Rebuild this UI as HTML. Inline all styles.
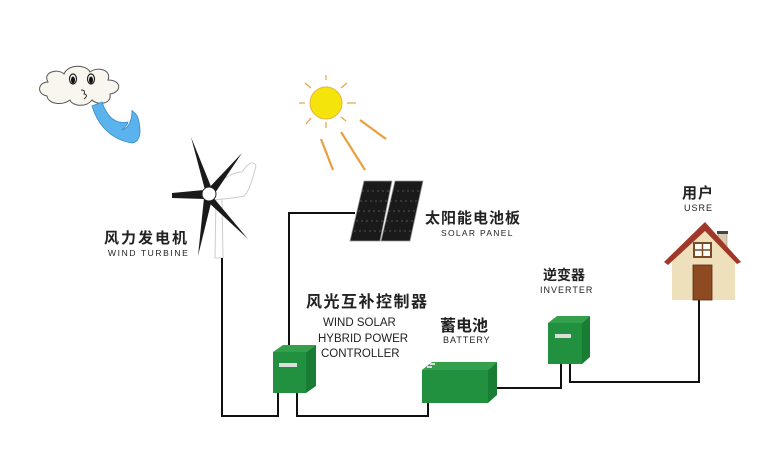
<!DOCTYPE html>
<html><head><meta charset="utf-8"><style>
html,body{margin:0;padding:0;background:#fff;}
svg{display:block;}
text{font-family:"Liberation Sans","Noto Sans CJK SC",sans-serif;fill:#222;}
.cn{font-weight:bold;}
</style></head><body>
<svg width="778" height="452" viewBox="0 0 778 452" xmlns="http://www.w3.org/2000/svg">
<!-- cloud -->
<path d="M47,96 C36,94 38,82 48,82 C42,72 58,68 64,74 C68,64 86,64 90,72 C98,66 112,70 108,80 C122,80 122,92 110,94 C112,104 98,106 92,100 C86,108 72,106 70,100 C62,106 48,104 47,96Z" fill="#f8f6ee" stroke="#555" stroke-width="1"/>
<ellipse cx="73" cy="79" rx="3.5" ry="5" fill="#fff" stroke="#222" stroke-width="1.2"/><ellipse cx="73" cy="80" rx="2" ry="3.5" fill="#111"/>
<ellipse cx="91" cy="79" rx="3.5" ry="5" fill="#fff" stroke="#222" stroke-width="1.2"/><ellipse cx="91" cy="80" rx="2" ry="3.5" fill="#111"/>
<path d="M81,90 q5,0 3,4 q5,1 0,5" fill="none" stroke="#333" stroke-width="1"/>
<!-- swoosh -->
<path d="M92,106 C98,126 112,140 132,143 C140,142 142,132 138,118 C136,112 132,112 132,110 C132,122 128,128 122,130 C126,126 128,124 128,122 C118,124 108,120 102,102Z" fill="#5ab3ec" stroke="#3a8bc8" stroke-width="0.8"/>
<!-- sun -->
<g stroke="#e8a040" stroke-width="1.2">
<line x1="326" y1="75" x2="326" y2="80"/><line x1="305" y1="103" x2="299" y2="103"/><line x1="347" y1="103" x2="356" y2="103"/>
<line x1="311" y1="88" x2="305" y2="83"/><line x1="341" y1="88" x2="347" y2="83"/><line x1="311" y1="118" x2="306" y2="124"/>
<line x1="341" y1="117" x2="346" y2="121"/><line x1="326" y1="122" x2="326" y2="128"/>
</g>
<g stroke="#e8a040" stroke-width="2.2">
<line x1="360" y1="120" x2="386" y2="139"/><line x1="341" y1="132" x2="365" y2="170"/><line x1="321" y1="139" x2="333" y2="170"/>
</g>
<circle cx="326" cy="103" r="16" fill="#f4e40c" stroke="#e8b040" stroke-width="1"/>
<!-- turbine -->
<path d="M216,198 L222,198 L223,258 L215,258Z" fill="#fff" stroke="#ccc" stroke-width="1"/>
<path d="M212,190 C222,178 234,172 242,172 C250,160 254,162 256,166 C252,180 250,190 244,196 C236,198 224,199 212,200Z" fill="#fff" stroke="#ccc" stroke-width="1"/>
<g fill="#1a1a1a">
<path d="M191,137 L205,190 L212,189 Z"/>
<path d="M242,153 L206,191 L213,196 Z"/>
<path d="M172,193 L204,190 L205,199 L172,198 Z"/>
<path d="M248,239 L212,196 L207,201 Z"/>
<path d="M198,256 L204,198 L212,199 Z"/>
</g>
<circle cx="209" cy="194" r="7" fill="#fff" stroke="#222" stroke-width="1"/>
<!-- solar panels -->
<path d="M364,181 L392,181 L380,241 L350,241Z" fill="#1a1a1a" stroke="#999" stroke-width="0.8"/>
<path d="M395,181 L423,181 L410,241 L381,241Z" fill="#1a1a1a" stroke="#999" stroke-width="0.8"/>
<g stroke="#888" stroke-width="0.6" stroke-dasharray="2,3">
<line x1="362" y1="191" x2="421" y2="191"/><line x1="360" y1="201" x2="419" y2="201"/><line x1="358" y1="211" x2="417" y2="211"/><line x1="356" y1="221" x2="415" y2="221"/><line x1="354" y1="231" x2="413" y2="231"/>
</g>
<!-- wires -->
<g fill="none" stroke="#111" stroke-width="2">
<polyline points="355,213 289,213 289,346"/>
<polyline points="222,258 222,416 278,416 278,393"/>
<polyline points="297,393 297,416 428,416 428,402"/>
<polyline points="488,388 561,388 561,364"/>
<polyline points="570,364 570,382 699,382 699,300"/>
</g>
<!-- controller -->
<path d="M273,352 L283,345 L316,345 L306,352Z" fill="#35a04c"/>
<path d="M306,352 L316,345 L316,386 L306,393Z" fill="#1a7d34"/>
<rect x="273" y="352" width="33" height="41" fill="#22913f"/>
<rect x="279" y="363" width="18" height="4" fill="#ddd"/>
<!-- battery -->
<path d="M422,370 L432,362 L497,362 L488,370Z" fill="#35a04c"/>
<path d="M488,370 L497,362 L497,395 L488,403Z" fill="#1a7d34"/>
<rect x="422" y="370" width="66" height="33" fill="#22913f"/>
<rect x="430" y="363" width="5" height="2" fill="#ddd"/><rect x="427" y="366" width="5" height="2" fill="#ddd"/>
<!-- inverter -->
<path d="M548,323 L557,316 L590,316 L582,323Z" fill="#35a04c"/>
<path d="M582,323 L590,316 L590,357 L582,364Z" fill="#1a7d34"/>
<rect x="548" y="323" width="34" height="41" fill="#22913f"/>
<rect x="555" y="334" width="16" height="4" fill="#ddd"/>
<!-- house -->
<rect x="718" y="232" width="9" height="16" fill="#d8cbb0" stroke="#888" stroke-width="0.5"/>
<rect x="717" y="231" width="11" height="3" fill="#444"/>
<path d="M672,258 L705,226 L735,258 L735,300 L672,300Z" fill="#efe0bc"/>
<path d="M664,262 L705,222 L741,262 L737,264 L705,231 L668,265Z" fill="#a0382a"/>
<rect x="693" y="265" width="19" height="35" fill="#8e4a20" stroke="#5a2a10" stroke-width="0.8"/>
<rect x="694" y="243" width="17" height="14" fill="#fff" stroke="#7a4a24" stroke-width="2"/>
<line x1="702.5" y1="243" x2="702.5" y2="257" stroke="#7a4a24" stroke-width="1.5"/><line x1="694" y1="250" x2="711" y2="250" stroke="#7a4a24" stroke-width="1.5"/>
<!-- labels -->
<text x="104" y="243" class="cn" font-size="15" letter-spacing="2">风力发电机</text>
<text x="108" y="256" font-size="8.5" letter-spacing="1.6">WIND TURBINE</text>
<text x="425" y="223" class="cn" font-size="15" letter-spacing="1">太阳能电池板</text>
<text x="441" y="236" font-size="8.5" letter-spacing="1.3">SOLAR PANEL</text>
<text x="306" y="307" class="cn" font-size="16" letter-spacing="1.5">风光互补控制器</text>
<text x="323" y="326" font-size="11.5">WIND SOLAR</text>
<text x="318" y="342" font-size="11.5">HYBRID POWER</text>
<text x="321" y="357" font-size="11.5">CONTROLLER</text>
<text x="440" y="331" class="cn" font-size="16">蓄电池</text>
<text x="443" y="343" font-size="9" letter-spacing="1">BATTERY</text>
<text x="543" y="280" class="cn" font-size="14">逆变器</text>
<text x="540" y="293" font-size="9" letter-spacing="1">INVERTER</text>
<text x="682" y="198" class="cn" font-size="15" letter-spacing="1">用户</text>
<text x="684" y="211" font-size="9" letter-spacing="1">USRE</text>
</svg>
</body></html>
